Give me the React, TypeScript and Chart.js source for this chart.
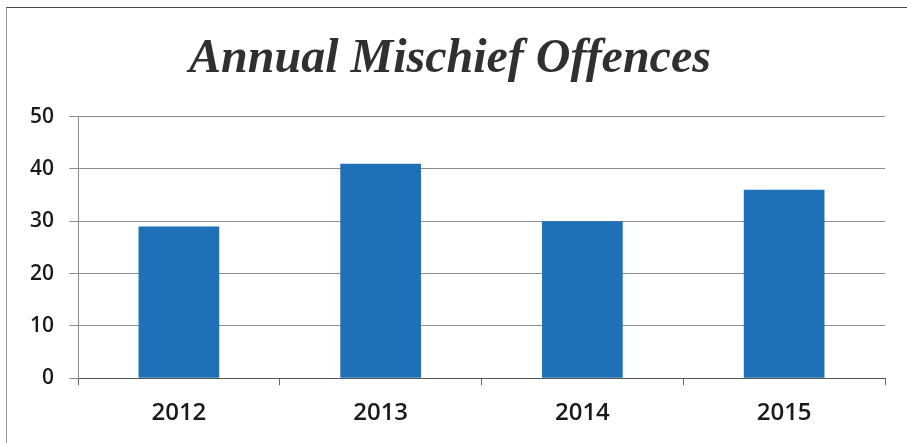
import React, { useEffect, useRef } from "react";
import { Chart, registerables } from "chart.js";

Chart.register(...registerables);

const categories = ["2012", "2013", "2014", "2015"];
const offences = [29, 41, 30, 36];
const yTicks = [0, 10, 20, 30, 40, 50];
const titleText = "Annual Mischief Offences";

export default function App() {
  const ref = useRef<HTMLCanvasElement | null>(null);

  useEffect(() => {
    if (!ref.current) return;
    const chart = new Chart(ref.current, {
      type: "bar",
      data: {
        labels: categories,
        datasets: [
          {
            data: offences,
            backgroundColor: "#1f70b6",
            borderWidth: 0,
            barPercentage: 0.4,
            categoryPercentage: 1,
          },
        ],
      },
      options: {
        animation: false,
        responsive: false,
        layout: { padding: { left: 15, right: 22, top: 31, bottom: 1 } },
        plugins: {
          legend: { display: false },
          tooltip: { enabled: false },
          title: {
            display: true,
            text: titleText,
            color: "#303030",
            font: { family: "'Liberation Serif', 'DejaVu Serif', serif", size: 48, style: "italic", weight: "bold" },
            padding: { top: 0, bottom: 28 },
          },
        },
        scales: {
          x: {
            offset: true,
            grid: { offset: true, drawOnChartArea: false, drawTicks: true, tickLength: 7, color: "#666666" },
            border: { display: true, color: "#555555", width: 1 },
            ticks: { color: "#1a1a1a", font: { family: "'Open Sans', 'Noto Sans', sans-serif", size: 24, weight: "600" }, padding: 14 },
          },
          y: {
            min: 0,
            max: 50,
            afterBuildTicks: (scale: any) => {
              scale.ticks = yTicks.map((v) => ({ value: v }));
            },
            grid: { color: "#8c8c8c", lineWidth: 1, tickLength: 9 },
            border: { display: true, color: "#8c8c8c", width: 1 },
            ticks: { color: "#1a1a1a", font: { family: "'Open Sans', 'Noto Sans', sans-serif", size: 21, weight: "600" }, padding: 15 },
          },
        },
      },
    });
    return () => chart.destroy();
  }, []);

  return (
    <div style={{ position: "fixed", left: 0, top: 0, width: 907, height: 443, background: "#ffffff" }}>
      <div
        style={{
          position: "absolute",
          left: 6,
          top: 7,
          width: 901,
          height: 436,
          borderTop: "1px solid #444444",
          borderLeft: "1px solid #999999",
          boxSizing: "border-box",
        }}
      />
      <canvas ref={ref} width={907} height={443} style={{ position: "absolute", left: 0, top: 0 }} />
    </div>
  );
}
